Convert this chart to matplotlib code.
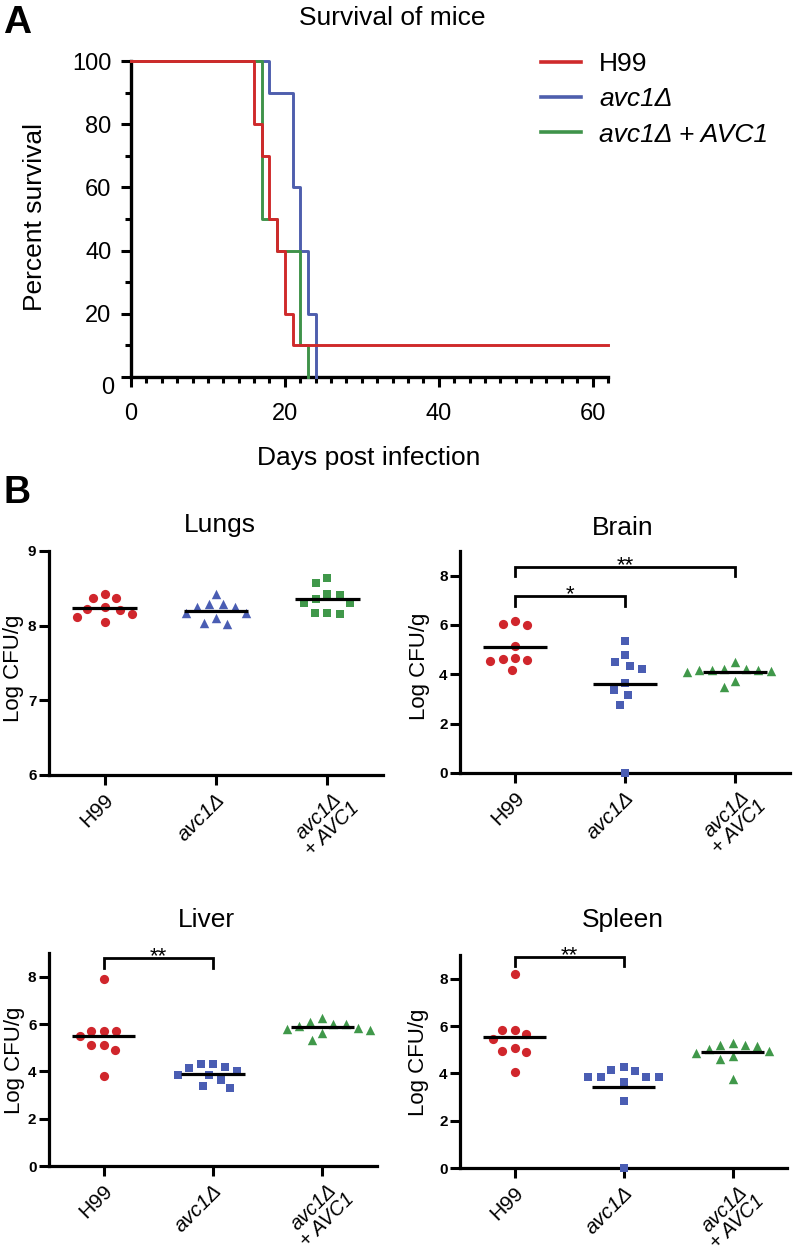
import numpy as np
import matplotlib
matplotlib.use('Agg')
import matplotlib.pyplot as plt
from matplotlib.lines import Line2D
from matplotlib.ticker import MultipleLocator

plt.rcParams['font.family'] = ['Liberation Sans', 'DejaVu Sans']

# ---------------- data ----------------
# Panel A: Kaplan-Meier steps (day, percent surviving)
days_h99 = [0, 16, 17, 18, 19, 20, 21, 62]
surv_h99 = [100, 80, 70, 50, 40, 20, 10, 10]
days_avc1 = [0, 18, 21, 22, 23, 24]
surv_avc1 = [100, 90, 60, 40, 20, 0]
days_comp = [0, 17, 19, 22, 23]
surv_comp = [100, 50, 40, 10, 0]

strain_labels = ['H99', 'avc1Δ', 'avc1Δ + AVC1']
group_labels = ['H99', 'avc1Δ', 'avc1Δ\n+ AVC1']

# Panel B: log CFU/g per organ
lungs_h99 = [8.43, 8.37, 8.37, 8.22, 8.25, 8.21, 8.16, 8.12, 8.05]
lungs_avc1 = [8.17, 8.25, 8.10, 8.29, 8.25, 8.02, 8.29, 8.04, 8.43, 8.17]
lungs_comp = [8.30, 8.41, 8.17, 8.57, 8.36, 8.16, 8.64, 8.43, 8.17, 8.31]

brain_h99 = [6.18, 6.00, 6.05, 4.65, 4.59, 5.16, 4.54, 4.62, 4.16]
brain_avc1 = [5.34, 4.78, 4.32, 4.22, 4.49, 3.65, 3.38, 3.16, 2.77, 0.0]
brain_comp = [4.49, 4.23, 4.19, 4.12, 4.11, 4.19, 4.19, 4.23, 3.74, 3.49]

liver_h99 = [7.90, 5.70, 5.70, 5.72, 5.49, 5.10, 5.10, 4.90, 3.79]
liver_avc1 = [4.30, 4.12, 3.83, 3.63, 3.83, 4.00, 4.17, 4.33, 3.28, 3.37]
liver_comp = [5.83, 5.99, 5.74, 6.10, 5.90, 6.25, 5.64, 6.01, 5.78, 5.34]

spleen_h99 = [8.18, 5.83, 5.81, 5.67, 5.43, 4.95, 4.92, 5.09, 4.06]
spleen_avc1 = [4.14, 3.86, 3.86, 4.26, 3.86, 3.86, 4.11, 3.64, 2.83, 0.0]
spleen_comp = [4.95, 5.30, 4.72, 5.16, 4.61, 5.19, 4.88, 5.21, 5.02, 3.77]

# significance brackets: (group a, group b, bar level, leg end, label)
brain_sig = [(0, 1, 7.16, 6.78, '*'), (0, 2, 8.35, 7.97, '**')]
liver_sig = [(0, 1, 8.79, 8.37, '**')]
spleen_sig = [(0, 1, 8.92, 8.55, '**')]

# ---------------- style ----------------
red = '#D0262C'
blue = '#4A5DB3'
green = '#40984A'
line_red = '#CF2A2B'
line_blue = '#4E5EAD'
line_green = '#3F934A'

W, H = 797, 1256
fig = plt.figure(figsize=(W / 100, H / 100), dpi=100)


def px_box(l, t, r, b):
    return [l / W, 1 - b / H, (r - l) / W, (b - t) / H]


def fig_text(x, y, s, **kw):
    return fig.text(x / W, 1 - y / H, s, **kw)


def swarm_offsets(ax, values, diam=12.0):
    # simple beeswarm in pixel space, returns x offsets in data units
    tr = ax.transData
    ys = [tr.transform((0, v))[1] for v in values]
    ppu = tr.transform((1, 0))[0] - tr.transform((0, 0))[0]
    placed = []
    offs = np.zeros(len(values))
    for i in np.argsort(ys)[::-1]:
        y = ys[i]
        cands = [0.0]
        for xj, yj in placed:
            dy = abs(y - yj)
            if dy < diam:
                dx = np.sqrt(diam ** 2 - dy ** 2)
                cands += [xj - dx, xj + dx]
        cands.sort(key=abs)
        for c in cands:
            if all((c - xj) ** 2 + (y - yj) ** 2 >= diam ** 2 - 1e-6 for xj, yj in placed):
                offs[i] = c
                placed.append((c, y))
                break
    return offs / ppu


# ---------------- panel A ----------------
axA = fig.add_axes(px_box(131, 61, 608, 377))
axA.set_xlim(0, 62)
axA.set_ylim(0, 100)
for d, s, c in [(days_avc1, surv_avc1, line_blue),
                (days_comp, surv_comp, line_green),
                (days_h99, surv_h99, line_red)]:
    axA.step(d, s, where='post', color=c, lw=2.1, clip_on=False, zorder=3)

for sp in ['top', 'right']:
    axA.spines[sp].set_visible(False)
for sp in ['left', 'bottom']:
    axA.spines[sp].set_linewidth(2.4)
axA.set_xticks([0, 20, 40, 60])
axA.xaxis.set_minor_locator(MultipleLocator(2))
axA.set_yticks([0, 20, 40, 60, 80, 100])
axA.set_yticklabels(['', '20', '40', '60', '80', '100'])
axA.yaxis.set_minor_locator(MultipleLocator(10))
axA.tick_params(which='major', length=7, width=2.2, labelsize=17)
axA.tick_params(which='minor', length=4, width=2.2)
axA.tick_params(axis='x', which='major', pad=12)
axA.tick_params(axis='y', which='major', pad=7)
axA.annotate('0', xy=(0, 0), xycoords=('axes fraction', 'data'),
             xytext=(-12, -8), textcoords='offset points',
             ha='right', va='center', fontsize=17)

handles = [Line2D([], [], color=line_red, lw=2.6),
           Line2D([], [], color=line_blue, lw=2.6),
           Line2D([], [], color=line_green, lw=2.6)]
leg = axA.legend(handles, strain_labels, loc='center left',
                 bbox_to_anchor=(541 / W, 1 - 99.5 / H), bbox_transform=fig.transFigure,
                 frameon=False, fontsize=19, handlelength=1.5, handletextpad=0.7,
                 labelspacing=0.42, borderpad=0, borderaxespad=0)
for t in leg.get_texts()[1:]:
    t.set_style('italic')

fig_text(299, 25, 'Survival of mice', fontsize=19, ha='left', va='baseline')
fig_text(35, 217, 'Percent survival', fontsize=19, rotation=90, ha='center', va='center')
fig_text(369, 458, 'Days post infection', fontsize=19, ha='center', va='center')
fig_text(3, 33, 'A', fontsize=28, fontweight='bold', ha='left', va='baseline')
fig_text(3, 503, 'B', fontsize=27, fontweight='bold', ha='left', va='baseline')

# ---------------- panel B ----------------
panels = [
    ('Lungs', [lungs_h99, lungs_avc1, lungs_comp], ['o', '^', 's'], (6, 9), [6, 7, 8, 9], [],
     (49, 551, 383, 775), (220, 532), (14, 668)),
    ('Brain', [brain_h99, brain_avc1, brain_comp], ['o', 's', '^'], (0, 9), [0, 2, 4, 6, 8], brain_sig,
     (460, 551, 790, 773), (623, 535), (420, 666)),
    ('Liver', [liver_h99, liver_avc1, liver_comp], ['o', 's', '^'], (0, 9), [0, 2, 4, 6, 8], liver_sig,
     (49, 953, 377, 1166), (206, 927), (15, 1060)),
    ('Spleen', [spleen_h99, spleen_avc1, spleen_comp], ['o', 's', '^'], (0, 9), [0, 2, 4, 6, 8], spleen_sig,
     (460, 955, 787, 1168), (623, 927), (419, 1062)),
]
colors = [red, blue, green]
msize = {'o': 44, 's': 40, '^': 46}
# category label placement (offset in points from tick foot, vertical anchor)
label_place = [((4.5, -15.5), 'center'), ((4.5, -15.5), 'center'), ((6.5, -7.5), 'top')]

for name, groups, markers, ylim, yticks, sigs, box, tpos, ypos in panels:
    ax = fig.add_axes(px_box(*box))
    ax.set_xlim(-0.5, 2.5)
    ax.set_ylim(*ylim)
    for gi, vals in enumerate(groups):
        offs = swarm_offsets(ax, vals, diam=12.5)
        ax.scatter(gi + offs, vals, marker=markers[gi], s=msize[markers[gi]],
                   color=colors[gi], linewidths=0, clip_on=False, zorder=3)
        m = np.mean(vals)
        ax.plot([gi - 0.29, gi + 0.29], [m, m], color='black', lw=2.3, zorder=4,
                solid_capstyle='butt')
    for a, b, top, leg_end, lab in sigs:
        ax.plot([a, a, b, b], [leg_end, top, top, leg_end], color='black', lw=2.0,
                clip_on=False, zorder=4, solid_joinstyle='miter')
        ax.annotate(lab, xy=((a + b) / 2, top), xytext=(0, -3), textcoords='offset points',
                    ha='center', va='baseline', fontsize=16, annotation_clip=False)
    for sp in ['top', 'right']:
        ax.spines[sp].set_visible(False)
    for sp in ['left', 'bottom']:
        ax.spines[sp].set_linewidth(2.3)
    ax.set_yticks(yticks)
    ax.set_xticks([0, 1, 2])
    ax.set_xticklabels([])
    for gi, lab in enumerate(group_labels):
        (dx, dy), va = label_place[gi]
        ax.annotate(lab, xy=(gi, 0), xycoords=('data', 'axes fraction'),
                    xytext=(dx, dy), textcoords='offset points',
                    rotation=45, rotation_mode='anchor', ha='right', va=va,
                    multialignment='center', linespacing=0.95,
                    fontsize=15 if gi < 2 else 14.5,
                    style='normal' if gi == 0 else 'italic', annotation_clip=False)
    ax.tick_params(axis='both', length=7, width=2.2)
    ax.tick_params(axis='y', labelsize=11, pad=2)
    for t in ax.get_yticklabels():
        t.set_fontweight('bold')
    fig_text(tpos[0], tpos[1], name, fontsize=19, ha='center', va='baseline')
    fig_text(ypos[0], ypos[1], 'Log CFU/g', fontsize=16, rotation=90, ha='center', va='center')

fig.savefig('out.png', dpi=100)
